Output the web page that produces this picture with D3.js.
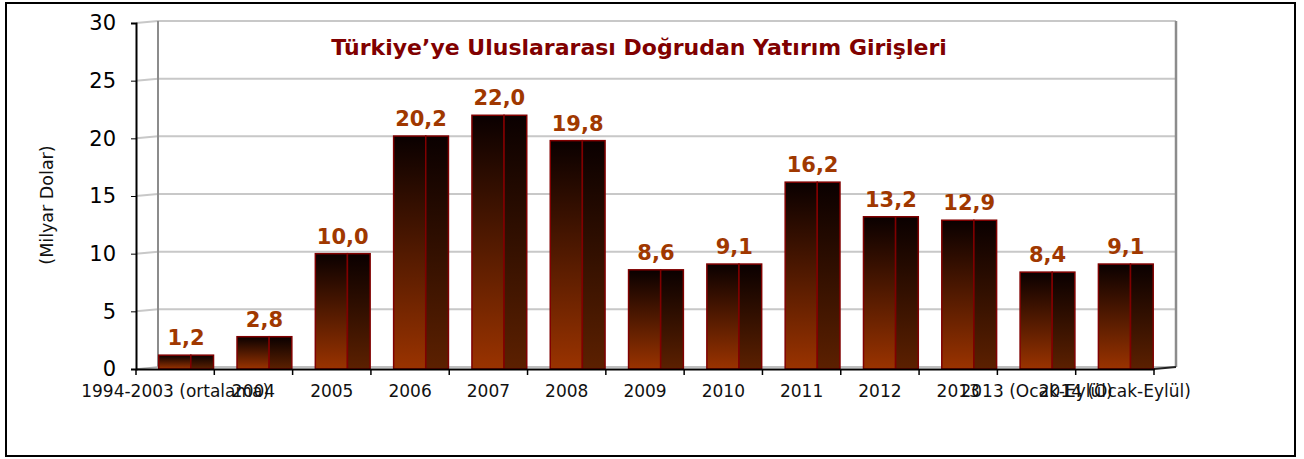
<!DOCTYPE html>
<html><head><meta charset="utf-8">
<script src="https://cdn.jsdelivr.net/npm/d3@7"></script>
<style>body{margin:0;background:#fff;}svg{display:block;font-family:"DejaVu Sans",Verdana,sans-serif;}</style>
</head><body>
<script>
const categories = ["1994-2003 (ortalama)","2004","2005","2006","2007","2008","2009","2010","2011","2012","2013","2013 (Ocak-Eylül)","2014 (Ocak-Eylül)"];
const values = [1.2,2.8,10.0,20.2,22.0,19.8,8.6,9.1,16.2,13.2,12.9,8.4,9.1];
const yTicks = [0,5,10,15,20,25,30];
const title = "Türkiye’ye Uluslararası Doğrudan Yatırım Girişleri";
const yTitle = "(Milyar Dolar)";

const W=1304,H=459;
const svg=d3.select("body").append("svg").attr("width",W).attr("height",H);
const defs=svg.append("defs");
const gf=defs.append("linearGradient").attr("id","gFront").attr("x1",0).attr("y1",0).attr("x2",0).attr("y2",1);
gf.append("stop").attr("offset","0%").attr("stop-color","#0a0000");
gf.append("stop").attr("offset","100%").attr("stop-color","#9a3300");
const gs=defs.append("linearGradient").attr("id","gSide").attr("x1",0).attr("y1",0).attr("x2",0).attr("y2",1);
gs.append("stop").attr("offset","0%").attr("stop-color","#0a0000");
gs.append("stop").attr("offset","100%").attr("stop-color","#5c2000");

svg.append("rect").attr("x",6).attr("y",3).attr("width",1289).attr("height",453).attr("fill","#fff").attr("stroke","#000").attr("stroke-width",2);

const x=d3.scaleBand().domain(categories).range([136,1154]);
const y=d3.scaleLinear().domain([0,30]).range([369,23]);
const depth=22, rise=2;

// gridlines & walls
const grid=svg.append("g");
yTicks.forEach(t=>{
  if(t===0) return;
  grid.append("polyline").attr("points",`136,${y(t)} ${136+depth},${y(t)-rise} 1176,${y(t)-rise}`)
    .attr("fill","none").attr("stroke","#c8c8c8").attr("stroke-width",2);
});
grid.append("line").attr("x1",136+depth).attr("x2",136+depth).attr("y1",y(30)-rise).attr("y2",y(0)-rise).attr("stroke","#8c8c8c").attr("stroke-width",2);
grid.append("line").attr("x1",1176).attr("x2",1176).attr("y1",y(30)-rise).attr("y2",y(0)-rise).attr("stroke","#8c8c8c").attr("stroke-width",2.5);
grid.append("polyline").attr("points",`136,${y(0)} ${136+depth},${y(0)-rise} 1176,${y(0)-rise}`).attr("fill","none").attr("stroke","#aaa").attr("stroke-width",1.5);
grid.append("line").attr("x1",1154).attr("x2",1176).attr("y1",y(0)).attr("y2",y(0)-rise).attr("stroke","#222").attr("stroke-width",2);

// bars
const bw=x.bandwidth();
const bars=svg.append("g");
categories.forEach((c,i)=>{
  const v=values[i];
  const x0=x(c)+bw*0.29, fw=bw*0.41, sw=bw*0.29;
  bars.append("rect").attr("x",x0).attr("y",y(v)).attr("width",fw).attr("height",y(0)-y(v))
    .attr("fill","url(#gFront)").attr("stroke","#800000").attr("stroke-width",1.5);
  bars.append("rect").attr("x",x0+fw).attr("y",y(v)).attr("width",sw).attr("height",y(0)-y(v))
    .attr("fill","url(#gSide)").attr("stroke","#800000").attr("stroke-width",1.5);
  bars.append("text").attr("x",x0+(fw+sw)/2).attr("y",y(v)-10).attr("text-anchor","middle")
    .attr("font-size",21).attr("font-weight","bold").attr("fill","#a03800").text(d3.format(".1f")(v).replace(".",","));
});

// axes
const yAxis=svg.append("g").attr("transform","translate(136,0)").call(d3.axisLeft(y).tickValues(yTicks).tickSize(5).tickPadding(15));
yAxis.select(".domain").attr("stroke","#000").attr("stroke-width",2);
yAxis.selectAll("text").attr("font-size",21).attr("font-family","DejaVu Sans").attr("fill","#000");
const xAxis=svg.append("g").attr("transform","translate(0,369)").call(d3.axisBottom(x).tickSize(0).tickPadding(16));
xAxis.select(".domain").attr("stroke","#000").attr("stroke-width",2);
xAxis.selectAll("text").attr("font-size",17).attr("font-family","DejaVu Sans").attr("fill","#111");
const tickPos=d3.range(categories.length+1).map(i=>136+i*bw);
svg.append("g").selectAll("line").data(tickPos).join("line").attr("x1",d=>d).attr("x2",d=>d).attr("y1",369).attr("y2",375).attr("stroke","#000").attr("stroke-width",1.5);

svg.append("text").attr("x",639).attr("y",55).attr("text-anchor","middle").attr("font-size",22).attr("font-weight","bold").attr("fill","#800000").text(title);
svg.append("text").attr("transform","translate(53,205) rotate(-90)").attr("text-anchor","middle").attr("font-size",17.5).attr("fill","#111").text(yTitle);
</script>
</body></html>
